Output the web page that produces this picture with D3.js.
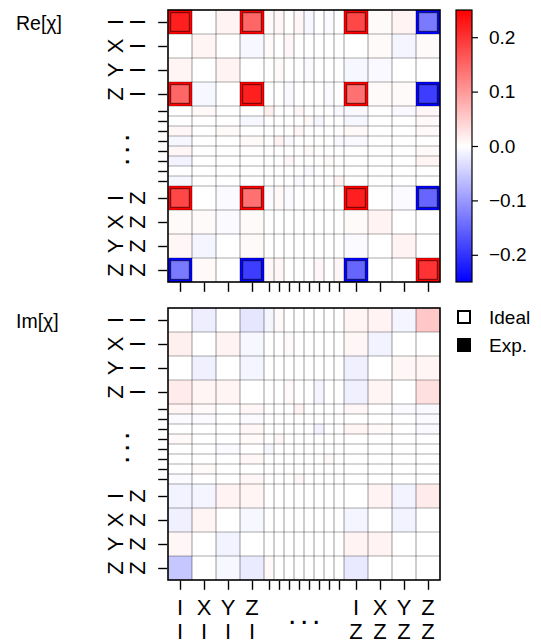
<!DOCTYPE html>
<html>
<head>
<meta charset="utf-8">
<script src="https://cdn.jsdelivr.net/npm/d3@7"></script>
<style>
  body { margin: 0; background: #fff; }
  svg { display: block; font-family: "Liberation Sans", Arial, sans-serif; }
</style>
</head>
<body>
<div id="chart"></div>
<script>
// Pauli basis (two qubits), only the outer 4 + 4 get a label
const basis = ["II", "XI", "YI", "ZI", "IX", "XX", "YX", "ZX",
               "IY", "XY", "YY", "ZY", "IZ", "XZ", "YZ", "ZZ"];
const tickLabels = ["II", "XI", "YI", "ZI", "", "", "", "", "", "", "", "", "IZ", "XZ", "YZ", "ZZ"];
const cbTicks = [-0.2, -0.1, 0.0, 0.1, 0.2];

// ideal chi (real part), non-zero entries only: [row, col, value]
const idealRe = [
  [0, 0, 0.25], [0, 3, 0.25], [0, 12, 0.25], [0, 15, -0.25],
  [3, 0, 0.25], [3, 3, 0.25], [3, 12, 0.25], [3, 15, -0.25],
  [12, 0, 0.25], [12, 3, 0.25], [12, 12, 0.25], [12, 15, -0.25],
  [15, 0, -0.25], [15, 3, -0.25], [15, 12, -0.25], [15, 15, 0.25]
];
const idealIm = [];

// measured chi, real part
const expRe = [
  [0.22, 0, 0.012, 0.15, 0.005, 0.008, 0, 0.008, -0.008, 0, -0.005, 0, 0.18, 0.005, 0.012, -0.13],
  [0, 0.01, 0, -0.008, 0.005, 0, 0.008, 0, 0, 0, 0, 0, 0, 0.005, -0.01, 0.005],
  [0.01, 0, 0.012, 0, 0, 0.005, 0, 0, -0.005, 0, 0, 0, -0.008, -0.006, 0, 0],
  [0.15, -0.008, 0, 0.22, 0, 0, -0.006, 0, 0, 0, -0.005, 0, 0.14, 0.005, 0.005, -0.19],
  [0, 0.006, 0, 0, 0.015, 0, 0, 0.008, 0, 0, 0, -0.006, -0.006, 0, -0.006, 0.008],
  [0, 0, 0, -0.008, 0, 0, 0, 0, 0.006, -0.008, 0, 0, -0.008, 0, 0, 0.006],
  [0.008, 0, 0.005, 0, 0, 0, 0, 0.008, 0, 0, 0, 0, 0.006, 0, 0, 0.006],
  [-0.008, 0, 0, 0.005, 0, 0.012, -0.006, 0, 0, 0, 0, -0.006, -0.006, 0, 0, 0],
  [0.008, 0, 0, 0, 0, 0, 0, 0, 0.005, 0, 0, 0, 0, 0, 0, 0.005],
  [-0.012, 0, 0, 0, 0, 0, 0.008, 0, 0, 0, 0.005, 0, 0, 0, 0, 0.01],
  [0, 0, 0, 0, 0, 0, 0, 0, -0.006, 0, 0, 0, 0, 0, 0, 0],
  [-0.008, 0, 0, 0, 0, 0, 0, -0.006, 0, 0, 0, 0.01, 0, 0, 0, 0],
  [0.18, 0, -0.005, 0.14, -0.005, 0.006, -0.005, 0, 0, 0, 0, 0, 0.22, 0, -0.005, -0.15],
  [0.005, 0.005, -0.005, 0.005, 0, 0, 0, 0, 0, 0, 0, 0, 0.005, 0.012, 0, 0],
  [0.008, -0.01, 0, 0.005, 0, 0, 0, 0, 0, 0, 0, 0, -0.005, 0, 0.012, 0],
  [-0.13, 0.006, 0, -0.19, 0.008, 0.008, 0, 0, 0, 0.008, 0, 0.008, -0.15, 0, 0, 0.2]
];

// measured chi, imaginary part
const expIm = [
  [0, -0.017, 0, -0.025, -0.01, 0.006, 0, 0, 0, 0, 0, 0, 0.01, 0.012, -0.01, 0.055],
  [0.015, 0, 0.012, -0.008, 0, 0, 0.005, 0, 0, 0, 0, 0, 0.008, -0.012, 0, 0],
  [0, -0.015, 0, -0.01, 0, 0, 0, 0, 0, 0, 0, 0, -0.015, 0, 0.008, 0.01],
  [0.02, 0.01, 0.01, 0, 0, 0, 0.006, 0, 0, -0.01, 0, 0, -0.015, 0.01, 0, 0.03],
  [0.01, 0.006, 0, 0.008, 0, 0, 0, 0.012, 0, 0, 0, 0, 0.008, 0, -0.005, -0.006],
  [-0.005, -0.005, 0, -0.005, 0, 0, 0, 0, 0, 0, 0, 0, 0, 0, 0, -0.005],
  [0, 0, 0, 0.008, 0, 0, 0, 0, 0, -0.012, 0, 0, 0.01, 0.006, 0, -0.006],
  [0.006, 0, 0, 0.006, 0, 0.008, 0, 0, 0, 0, 0, 0, 0, 0, 0, 0],
  [0, 0, -0.005, 0, -0.008, 0, 0, 0, 0, 0, 0, 0, 0, 0, 0, 0],
  [0, 0, 0, 0.008, 0, 0, 0, 0, 0, 0, 0.006, 0, 0, 0, 0, 0],
  [0, 0.005, 0, 0, 0, 0, 0, 0, 0, 0, 0, 0, 0, 0, 0, 0],
  [-0.005, 0, 0, 0.008, 0, 0, 0, 0.008, 0, 0, 0, 0, 0, 0, 0, 0],
  [-0.012, -0.01, 0.012, 0.01, 0, 0, 0, 0, 0, 0, 0, 0, 0, 0.012, -0.012, 0.02],
  [-0.015, 0.01, 0, -0.008, 0, 0, 0, 0, 0, 0, 0, 0, -0.01, 0, -0.012, 0],
  [0.008, 0, -0.012, 0, 0, 0, 0, 0, 0, 0, 0, 0, 0.012, 0.012, 0, 0],
  [-0.055, 0, -0.008, -0.02, 0.006, 0, 0, 0, 0, 0, 0, 0, -0.022, 0, 0, 0]
];

const W = 541, H = 644;
const x0 = 168, size = 272;
const panels = [
  { title: "Re[\u03c7]", top: 10, exp: expRe, ideal: idealRe, xLabels: false },
  { title: "Im[\u03c7]", top: 308, exp: expIm, ideal: idealIm, xLabels: true }
];

const vmax = 0.25;
const color = d3.scaleLinear()
  .domain([-vmax, 0, vmax])
  .range(["#0000ff", "#ffffff", "#ff0000"])
  .clamp(true);

// outer 4+4 cells are wide, middle 8 narrow
const unit = i => (i < 4 || i > 11) ? 2.4 : 1;
const edges = [0];
basis.forEach((b, i) => edges.push(edges[i] + unit(i)));
const pos = d3.scaleLinear().domain([0, edges[edges.length - 1]]).range([0, size]);
const cells = basis.map((b, i) => ({ i, a: pos(edges[i]), b: pos(edges[i + 1]) }));
const centers = cells.map(c => (c.a + c.b) / 2);
const idx = d3.scaleOrdinal().domain(d3.range(basis.length)).range(centers);

const svg = d3.select("#chart").append("svg")
  .attr("width", W).attr("height", H);
svg.append("rect").attr("width", W).attr("height", H).attr("fill", "#fff");

panels.forEach(p => {
  const g = svg.append("g").attr("transform", `translate(${x0},${p.top})`);

  const cellData = [];
  p.exp.forEach((row, r) => row.forEach((v, c) => cellData.push({ r, c, v })));

  g.selectAll("rect.cell").data(cellData).join("rect")
    .attr("class", "cell")
    .attr("x", d => cells[d.c].a)
    .attr("y", d => cells[d.r].a)
    .attr("width", d => cells[d.c].b - cells[d.c].a)
    .attr("height", d => cells[d.r].b - cells[d.r].a)
    .attr("fill", d => color(d.v));

  // ideal entries: cell coloured by the ideal value, experiment as inner square
  const inset = 2.7;
  const ig = g.selectAll("g.ideal").data(p.ideal).join("g").attr("class", "ideal");
  ig.append("rect")
    .attr("x", d => cells[d[1]].a)
    .attr("y", d => cells[d[0]].a)
    .attr("width", d => cells[d[1]].b - cells[d[1]].a)
    .attr("height", d => cells[d[0]].b - cells[d[0]].a)
    .attr("fill", d => color(d[2]));
  ig.append("rect")
    .attr("x", d => cells[d[1]].a + inset)
    .attr("y", d => cells[d[0]].a + inset)
    .attr("width", d => cells[d[1]].b - cells[d[1]].a - 2 * inset)
    .attr("height", d => cells[d[0]].b - cells[d[0]].a - 2 * inset)
    .attr("fill", d => color(p.exp[d[0]][d[1]]))
    .attr("stroke", "#000")
    .attr("stroke-opacity", 0.6)
    .attr("stroke-width", 1);

  // grid
  const inner = edges.slice(1, -1).map(pos);
  g.selectAll("line.gx").data(inner).join("line")
    .attr("x1", d => d).attr("x2", d => d).attr("y1", 0).attr("y2", size)
    .attr("stroke", "#000").attr("stroke-opacity", 0.33).attr("stroke-width", 1.2);
  g.selectAll("line.gy").data(inner).join("line")
    .attr("y1", d => d).attr("y2", d => d).attr("x1", 0).attr("x2", size)
    .attr("stroke", "#000").attr("stroke-opacity", 0.33).attr("stroke-width", 1.2);

  g.append("rect")
    .attr("width", size).attr("height", size)
    .attr("fill", "none").attr("stroke", "#000").attr("stroke-width", 1.6);

  // ticks
  const ax = d3.axisBottom(idx).tickSize(9).tickPadding(0).tickFormat("");
  const ay = d3.axisLeft(idx).tickSize(9).tickPadding(0).tickFormat("");
  const gx = g.append("g").attr("transform", `translate(0,${size + 0.8})`).call(ax);
  const gy = g.append("g").attr("transform", `translate(-0.8,0)`).call(ay);
  [gx, gy].forEach(a => {
    a.select(".domain").remove();
    a.selectAll(".tick line").attr("stroke", "#000").attr("stroke-width", 1.4);
  });

  // y tick labels: two-line labels turned by 90 degrees
  const yl = g.selectAll("text.yl").data(tickLabels.map((t, i) => ({ t, i })).filter(d => d.t))
    .join("text").attr("class", "yl")
    .attr("transform", d => `translate(-45,${centers[d.i]}) rotate(-90)`)
    .attr("text-anchor", "middle")
    .attr("font-size", 22);
  yl.append("tspan").attr("x", 0).attr("y", 0).text(d => d.t[0]);
  yl.append("tspan").attr("x", 0).attr("y", 22).text(d => d.t[1]);
  g.append("text")
    .attr("transform", `translate(-39,${pos(edges[8]) + 2}) rotate(-90)`)
    .attr("text-anchor", "middle")
    .attr("font-size", 30).attr("letter-spacing", 3.7)
    .text("...");

  if (p.xLabels) {
    const xl = g.selectAll("text.xl").data(tickLabels.map((t, i) => ({ t, i })).filter(d => d.t))
      .join("text").attr("class", "xl")
      .attr("text-anchor", "middle")
      .attr("font-size", 22);
    xl.append("tspan").attr("x", d => centers[d.i]).attr("y", size + 34.5).text(d => d.t[0]);
    xl.append("tspan").attr("x", d => centers[d.i]).attr("y", size + 59).text(d => d.t[1]);
    g.append("text")
      .attr("x", pos(edges[8]) + 2).attr("y", size + 43.5)
      .attr("text-anchor", "middle")
      .attr("font-size", 30).attr("letter-spacing", 3.7)
      .text("...");
  }

  svg.append("text")
    .attr("x", 16).attr("y", p.top + 20)
    .attr("font-size", 19.5)
    .text(p.title);
});

// colorbar
const cb = { x: 456, y: 10, w: 16, h: 272 };
const defs = svg.append("defs");
const grad = defs.append("linearGradient").attr("id", "bwr")
  .attr("x1", 0).attr("x2", 0).attr("y1", 1).attr("y2", 0);
grad.selectAll("stop").data([-vmax, 0, vmax]).join("stop")
  .attr("offset", d => (d + vmax) / (2 * vmax))
  .attr("stop-color", d => color(d));
svg.append("rect")
  .attr("x", cb.x).attr("y", cb.y).attr("width", cb.w).attr("height", cb.h)
  .attr("fill", "url(#bwr)").attr("stroke", "#000").attr("stroke-width", 1.2);
const cbScale = d3.scaleLinear().domain([-vmax, vmax]).range([cb.h, 0]);
const cbAxis = d3.axisRight(cbScale).tickValues(cbTicks).tickSize(6).tickPadding(11)
  .tickFormat(d3.format(".1f"));
const cbg = svg.append("g").attr("transform", `translate(${cb.x + cb.w},${cb.y})`).call(cbAxis);
cbg.select(".domain").remove();
cbg.selectAll(".tick line").attr("stroke", "#000").attr("stroke-width", 1.2);
cbg.selectAll(".tick text").attr("font-size", 19).attr("fill", "#000")
  .attr("font-family", "'Liberation Sans', Arial, sans-serif");

// legend
const legend = [{ name: "Ideal", fill: "#fff" }, { name: "Exp.", fill: "#000" }];
const lg = svg.selectAll("g.lg").data(legend).join("g").attr("class", "lg")
  .attr("transform", (d, i) => `translate(457,${310 + i * 28})`);
lg.append("rect").attr("x", 1).attr("y", 1).attr("width", 12).attr("height", 12)
  .attr("fill", d => d.fill).attr("stroke", "#000").attr("stroke-width", 2);
lg.append("text").attr("x", 32).attr("y", 13.5).attr("font-size", 19).text(d => d.name);
</script>
</body>
</html>
